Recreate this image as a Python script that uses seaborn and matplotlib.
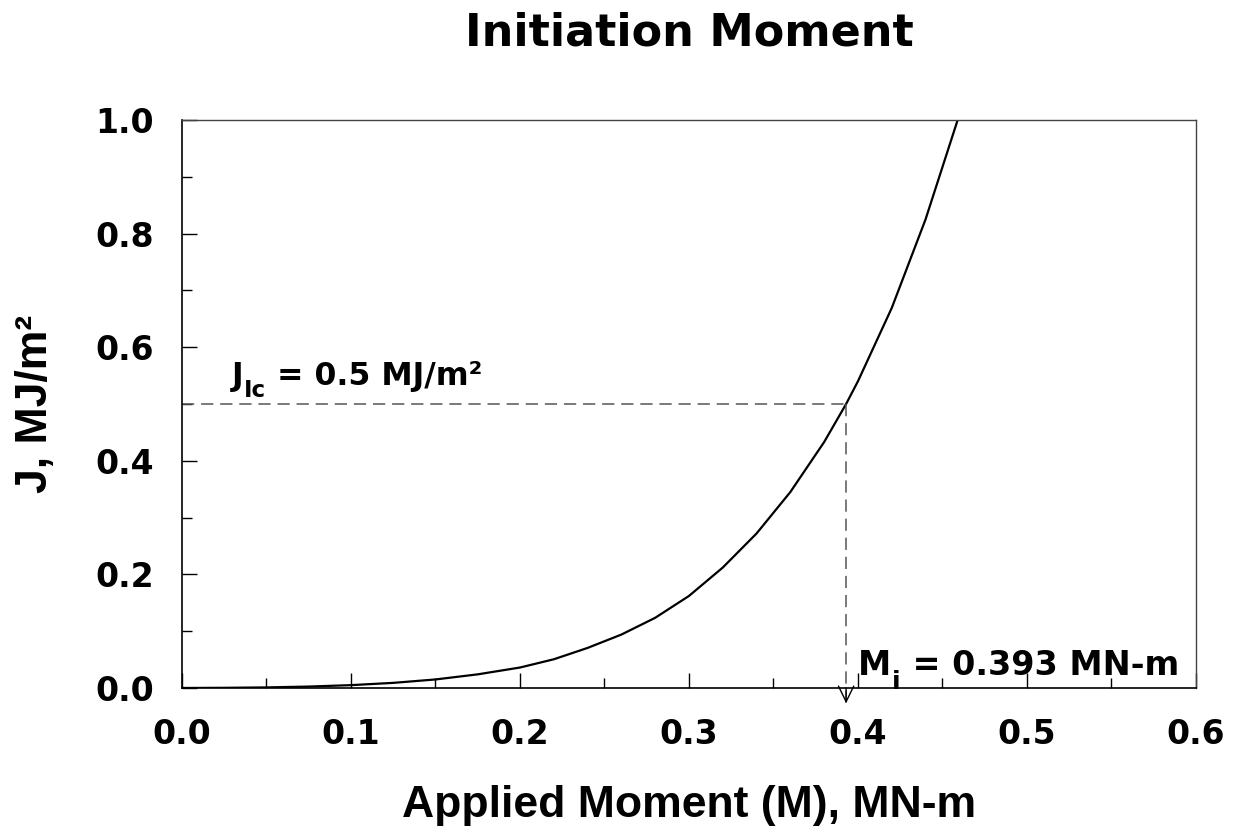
import numpy as np
import pandas as pd
import matplotlib
matplotlib.use("Agg")
import matplotlib.pyplot as plt
import seaborn as sns
from matplotlib.ticker import MultipleLocator

# values
moment = [0.0, 0.025, 0.05, 0.075, 0.1, 0.125, 0.15, 0.175, 0.2, 0.22, 0.24,
          0.26, 0.28, 0.3, 0.32, 0.34, 0.36, 0.38, 0.393, 0.4, 0.42, 0.44, 0.459]
j_value = [0.0, 0.0003, 0.001, 0.0025, 0.005, 0.009, 0.015, 0.024, 0.036,
           0.0505, 0.0705, 0.094, 0.1235, 0.162, 0.212, 0.272, 0.345, 0.433,
           0.5, 0.54, 0.669, 0.825, 1.0]
j_ic = 0.5
m_i = 0.393
x_ticks = [0.0, 0.1, 0.2, 0.3, 0.4, 0.5, 0.6]
y_ticks = [0.0, 0.2, 0.4, 0.6, 0.8, 1.0]

sns.set_style("ticks")
plt.rcParams['font.family'] = ['DejaVu Sans']
plt.rcParams.update({'text.color': 'black', 'axes.labelcolor': 'black',
                     'xtick.color': 'black', 'ytick.color': 'black'})

df = pd.DataFrame({'M': moment, 'J': j_value})

fig = plt.figure(figsize=(12.36, 8.32), dpi=100)
ax = fig.add_axes([0.1472, 0.1731, 0.9676 - 0.1472, 0.8558 - 0.1731])

sns.lineplot(data=df, x='M', y='J', ax=ax, color='black', lw=1.6,
             sort=False, estimator=None)

# J_Ic level and the initiation moment
dash_kw = dict(color='#555555', lw=1.1, dashes=(8, 4.5))
ax.plot([0.0, m_i], [j_ic, j_ic], **dash_kw)
ax.plot([m_i, m_i], [j_ic, -0.026], clip_on=False, **dash_kw)
ax.annotate('', xy=(m_i, -0.027), xytext=(m_i, 0.0),
            arrowprops=dict(arrowstyle='->,head_length=0.45,head_width=0.22',
                            lw=1.0, color='black', shrinkA=0, shrinkB=0,
                            mutation_scale=25),
            annotation_clip=False)


def label_with_sub(x, y, main, sub, rest, size, sub_size, drop):
    t1 = ax.text(x, y, main, fontsize=size, fontweight='bold',
                 va='baseline', ha='left')
    t2 = ax.annotate(sub, xy=(1, 0), xycoords=t1, xytext=(0.5, -drop),
                     textcoords='offset points', fontsize=sub_size,
                     fontweight='bold', va='baseline', ha='left')
    ax.annotate(rest, xy=(1, 0), xycoords=(t2, t1), fontsize=size,
                fontweight='bold', va='bottom', ha='left')


label_with_sub(0.0296, 0.533, 'J', 'Ic', ' = 0.5 MJ/m²', 22.7, 16.5, 3.3)
label_with_sub(0.4, 0.0229, 'M', 'i', ' = 0.393 MN-m', 24, 18, 5.0)

ax.set_xlim(0, 0.6)
ax.set_ylim(0, 1.0)
ax.set_xticks(x_ticks)
ax.set_yticks(y_ticks)
ax.set_xticklabels([f'{v:.1f}' for v in x_ticks])
ax.set_yticklabels([f'{v:.1f}' for v in y_ticks])
ax.xaxis.set_minor_locator(MultipleLocator(0.05))
ax.yaxis.set_minor_locator(MultipleLocator(0.1))
ax.tick_params(which='both', direction='in', top=False, right=False, width=1.0, color='black')
ax.tick_params(which='major', length=11)
ax.tick_params(which='minor', length=7.5)
ax.tick_params(axis='x', which='major', pad=21.5, labelsize=23.8)
ax.tick_params(axis='y', which='major', pad=20, labelsize=23.8)
for lab in ax.get_xticklabels() + ax.get_yticklabels():
    lab.set_fontweight('bold')

for side in ['left', 'bottom']:
    ax.spines[side].set_color('black')
    ax.spines[side].set_linewidth(1.2)
for side in ['top', 'right']:
    ax.spines[side].set_visible(True)
    ax.spines[side].set_color('#444444')
    ax.spines[side].set_linewidth(1.0)

ax.set_xlabel('Applied Moment (M), MN-m', fontsize=32, fontweight='bold',
              family='Liberation Sans')
ax.set_ylabel('J, MJ/m²', fontsize=32, fontweight='bold',
              family='Liberation Sans')
ax.xaxis.label.set_va('baseline')
ax.xaxis.set_label_coords(0.5, (688 - 817) / 568)
ax.yaxis.label.set_va('baseline')
ax.yaxis.set_label_coords((47 - 182) / 1014, 0.5)

fig.text(689 / 1236, 1 - 45 / 832, 'Initiation Moment', fontsize=32,
         fontweight='bold', ha='center', va='baseline')

fig.savefig('out.png', dpi=100)
